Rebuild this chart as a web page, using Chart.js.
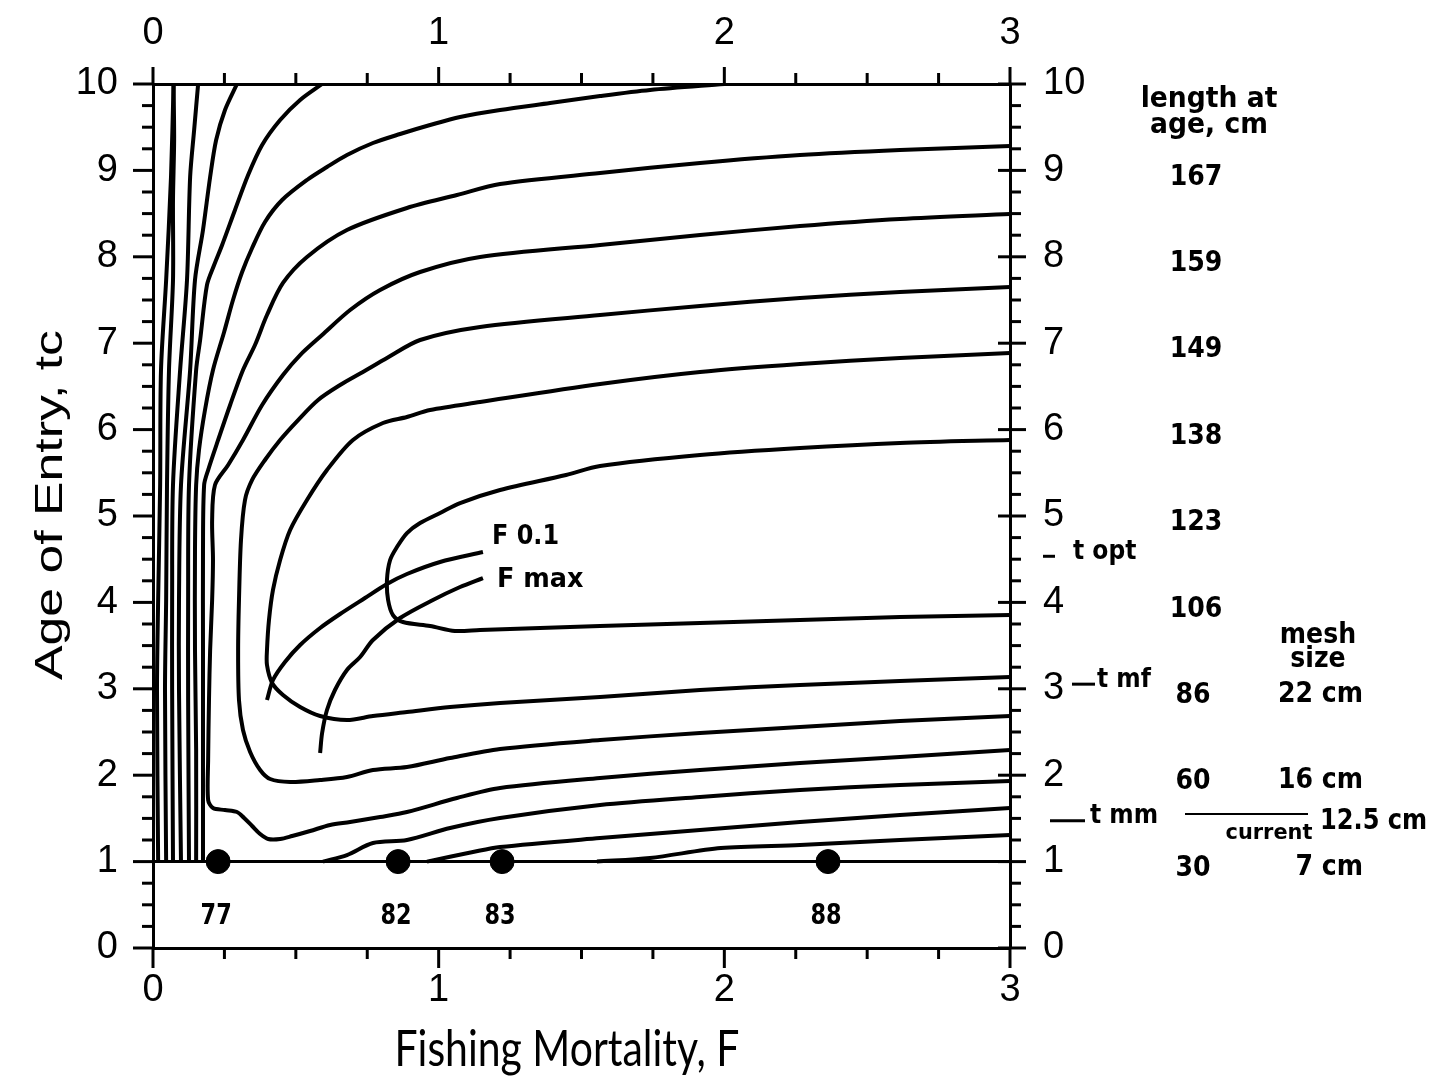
<!DOCTYPE html>
<html>
<head>
<meta charset="utf-8">
<script src="https://cdn.jsdelivr.net/npm/chart.js@4.4.1/dist/chart.umd.min.js"></script>
<style>
  html, body { margin: 0; padding: 0; background: #fff; }
</style>
</head>
<body>
<canvas id="isoChart" width="1437" height="1085"></canvas>
<script>
// yield isopleths, points as [F, tc]
// lines that run up to the top edge
const isoTop1 = [[0.072,10],[0.063,8.924],[0.046,7.731],[0.028,6.690],[0.025,5.359],[0.018,4.028],[0.014,2.986],[0.018,1.0]];
const isoTop2 = [[0.072,10],[0.074,9.352],[0.070,8.657],[0.070,7.731],[0.056,6.690],[0.049,5.359],[0.046,4.028],[0.042,2.986],[0.046,1.0]];
const isoTop3 = [[0.158,10],[0.144,9.468],[0.130,8.924],[0.119,7.731],[0.095,6.690],[0.070,5.359],[0.067,4.028],[0.067,2.986],[0.070,1.0]];
const isoTop4 = [[0.294,10],[0.252,9.699],[0.221,9.352],[0.200,8.924],[0.175,8.310],[0.147,7.731],[0.130,6.690],[0.098,5.359],[0.091,4.028],[0.091,2.986],[0.098,1.0]];
const isoTop5 = [[0.592,10],[0.515,9.815],[0.445,9.583],[0.382,9.294],[0.333,8.947],[0.287,8.542],[0.242,8.137],[0.214,7.905],[0.189,7.674],[0.165,7.037],[0.151,6.690],[0.126,5.359],[0.123,4.028],[0.123,2.870],[0.126,1.0]];
// contour meeting the top edge near F = 2
const iso10 = [[2.0,10],[1.740,9.931],[1.565,9.861],[1.390,9.780],[1.215,9.699],[1.075,9.618],[0.970,9.525],[0.865,9.421],[0.770,9.317],[0.679,9.178],[0.609,9.039],[0.539,8.889],[0.452,8.657],[0.392,8.403],[0.347,8.102],[0.312,7.824],[0.280,7.5],[0.249,7.130],[0.210,6.690],[0.182,6.227],[0.161,5.764],[0.151,5.359],[0.147,4.606],[0.147,3.449],[0.151,2.292],[0.151,1.0]];
// contours leaving the right edge (upper arm) and coming back (lower arm)
const iso928 = [[3,9.282],[2.615,9.236],[2.265,9.178],[1.915,9.086],[1.565,8.970],[1.215,8.843],[1.064,8.715],[0.889,8.565],[0.679,8.310],[0.539,7.998],[0.455,7.697],[0.399,7.326],[0.357,6.979],[0.315,6.690],[0.270,6.285],[0.228,5.880],[0.193,5.532],[0.179,5.359],[0.175,4.606],[0.175,3.449],[0.175,2.292],[0.175,1.0]];
const iso850 = [[3,8.495],[2.615,8.438],[2.265,8.356],[1.915,8.252],[1.565,8.137],[1.145,7.998],[0.935,7.824],[0.795,7.616],[0.690,7.384],[0.592,7.095],[0.515,6.863],[0.455,6.632],[0.382,6.285],[0.315,5.880],[0.263,5.590],[0.217,5.359],[0.207,4.954],[0.210,4.491],[0.207,4.028],[0.200,3.449],[0.196,2.870],[0.193,2.176],[0.193,1.713],[0.210,1.620],[0.252,1.597],[0.294,1.574],[0.319,1.505],[0.347,1.412],[0.375,1.319],[0.403,1.262],[0.445,1.262],[0.487,1.296],[0.550,1.354],[0.620,1.424],[0.690,1.458],[0.795,1.516],[0.889,1.574],[1.064,1.736],[1.215,1.852],[1.565,1.968],[1.915,2.060],[2.265,2.141],[2.615,2.211],[3,2.292]];
const iso765 = [[3,7.650],[2.615,7.593],[2.265,7.523],[1.915,7.431],[1.565,7.326],[1.145,7.188],[0.935,7.037],[0.819,6.829],[0.735,6.667],[0.655,6.516],[0.578,6.343],[0.508,6.111],[0.445,5.880],[0.392,5.648],[0.347,5.417],[0.322,5.185],[0.308,4.722],[0.301,4.028],[0.298,3.449],[0.301,2.870],[0.315,2.523],[0.340,2.269],[0.375,2.060],[0.410,1.956],[0.480,1.921],[0.585,1.944],[0.679,1.979],[0.770,2.060],[0.889,2.095],[1.040,2.199],[1.215,2.303],[1.565,2.407],[1.915,2.488],[2.265,2.558],[2.615,2.627],[3,2.685]];
const iso689 = [[3,6.887],[2.615,6.829],[2.265,6.759],[1.915,6.667],[1.565,6.528],[1.145,6.319],[0.970,6.227],[0.889,6.146],[0.805,6.076],[0.700,5.880],[0.609,5.532],[0.539,5.185],[0.480,4.838],[0.445,4.491],[0.420,4.144],[0.406,3.796],[0.399,3.449],[0.399,3.275],[0.417,3.067],[0.455,2.928],[0.515,2.789],[0.585,2.685],[0.679,2.639],[0.770,2.685],[0.889,2.731],[1.040,2.789],[1.215,2.836],[1.565,2.905],[1.915,2.986],[2.265,3.044],[2.615,3.090],[3,3.137]];
const iso588 = [[3,5.880],[2.615,5.845],[2.265,5.787],[1.915,5.706],[1.565,5.579],[1.446,5.475],[1.215,5.301],[1.075,5.150],[1.005,5.035],[0.935,4.919],[0.889,4.803],[0.854,4.641],[0.830,4.491],[0.819,4.259],[0.823,4.028],[0.840,3.854],[0.875,3.773],[0.970,3.727],[1.057,3.669],[1.145,3.681],[1.565,3.727],[1.915,3.762],[2.265,3.796],[2.615,3.831],[3,3.854]];
// lower arms starting on tc = 1
const isoLow193 = [[0.595,1.0],[0.679,1.076],[0.770,1.215],[0.889,1.250],[1.040,1.389],[1.215,1.505],[1.565,1.655],[1.915,1.748],[2.265,1.829],[2.615,1.887],[3,1.933]];
const isoLow162 = [[0.959,1.0],[1.120,1.111],[1.215,1.169],[1.565,1.273],[1.915,1.366],[2.265,1.458],[2.615,1.539],[3,1.620]];
const isoLow133 = [[1.554,1.0],[1.740,1.042],[1.988,1.157],[2.265,1.192],[2.615,1.250],[3,1.308]];

// reference point curves
const lineF01 = [[0.399,2.870],[0.420,3.102],[0.462,3.310],[0.515,3.507],[0.585,3.704],[0.655,3.866],[0.742,4.051],[0.819,4.213],[0.889,4.329],[1.005,4.468],[1.155,4.583]];
const lineFmax = [[0.585,2.257],[0.592,2.488],[0.609,2.755],[0.637,2.986],[0.679,3.218],[0.725,3.368],[0.770,3.565],[0.865,3.819],[0.980,4.028],[1.075,4.178],[1.155,4.282]];

// fishing mortality by year, plotted at tc = 1
const yearF = [0.228, 0.858, 1.222, 2.363];
const yearLabels = ['77', '82', '83', '88'];

// right hand columns
const lengthAges = [1, 2, 3, 4, 5, 6, 7, 8, 9];
const lengthAtAge = [30, 60, 86, 106, 123, 138, 149, 159, 167];
const meshAges = [1, 2, 3];
const meshSizes = ['7 cm', '16 cm', '22 cm'];
const currentMeshAge = 1.55;
const currentMesh = '12.5 cm';
const markerLabels = ['t opt', 't mf', 't mm'];
const markerAges = [4.58, 3.1, 1.52];

const isoLines = [isoTop1, isoTop2, isoTop3, isoTop4, isoTop5, iso10, iso928, iso850, iso765, iso689, iso588, isoLow193, isoLow162, isoLow133, lineF01, lineFmax];

const toPts = arr => arr.map(p => ({ x: p[0], y: p[1] }));

const datasets = isoLines.map(arr => ({
  data: toPts(arr),
  borderColor: '#000',
  borderWidth: 4,
  pointRadius: 0,
  tension: 0.3,
  fill: false,
  xAxisID: 'x',
  yAxisID: 'y'
}));

// tc = 1 line
datasets.push({
  data: [{ x: 0, y: 1 }, { x: 3, y: 1 }],
  borderColor: '#000', borderWidth: 3, pointRadius: 0, tension: 0,
  xAxisID: 'x', yAxisID: 'y'
});
// year dots
datasets.push({
  data: yearF.map(f => ({ x: f, y: 1 })),
  showLine: false,
  pointRadius: 12,
  pointBackgroundColor: '#000',
  pointBorderColor: '#000',
  xAxisID: 'x', yAxisID: 'y'
});

const tickFont = { family: 'Liberation Sans', size: 38 };

function txt(ctx, s, x, y, font, align, sx) {
  ctx.save();
  ctx.font = font;
  ctx.fillStyle = '#000';
  ctx.textAlign = align || 'left';
  ctx.textBaseline = 'middle';
  ctx.translate(x, y);
  ctx.scale(sx || 1, 1);
  ctx.fillText(s, 0, 0);
  ctx.restore();
}

function seg(ctx, x1, y1, x2, y2, w) {
  ctx.lineWidth = w || 3;
  ctx.beginPath();
  ctx.moveTo(x1, y1);
  ctx.lineTo(x2, y2);
  ctx.stroke();
}

const decor = {
  id: 'decor',
  afterDraw(chart) {
    const ctx = chart.ctx;
    const xs = chart.scales.x, ys = chart.scales.y;
    const { left, right, top, bottom } = chart.chartArea;
    ctx.save();
    ctx.strokeStyle = '#000';
    ctx.lineCap = 'butt';

    // tick marks, quarter steps
    for (let i = 0; i <= 12; i++) {
      const px = xs.getPixelForValue(i / 4);
      const major = i % 4 === 0;
      seg(ctx, px, top, px, top - (major ? 17 : 11));
      seg(ctx, px, bottom, px, bottom + (major ? 20 : 11));
    }
    for (let i = 0; i <= 40; i++) {
      const py = ys.getPixelForValue(i / 4);
      const major = i % 4 === 0;
      seg(ctx, left, py, left - (major ? 20 : 11), py);
      seg(ctx, right - (major ? 12 : 0), py, right + (major ? 16 : 11), py);
    }

    // axis titles
    ctx.save();
    ctx.font = '38px "Liberation Sans"';
    let w = ctx.measureText('Age of Entry, tc').width;
    ctx.restore();
    ctx.save();
    ctx.translate(52, 505);
    ctx.rotate(-Math.PI / 2);
    txt(ctx, 'Age of Entry, tc', 0, 0, '38px "Liberation Sans"', 'center', 350 / w);
    ctx.restore();

    ctx.save();
    ctx.font = '50px Lato';
    w = ctx.measureText('Fishing Mortality, F').width;
    ctx.restore();
    txt(ctx, 'Fishing Mortality, F', 567, 1050, '50px Lato', 'center', 345 / w);

    const bold = s => 'bold ' + s + 'px "DejaVu Sans"';

    // F0.1 / Fmax labels
    txt(ctx, 'F 0.1', 492, 537, bold(26), 'left', 0.92);
    txt(ctx, 'F max', 497, 580, bold(26), 'left', 0.98);

    // year labels under the dots
    yearF.forEach((f, i) => {
      txt(ctx, yearLabels[i], xs.getPixelForValue(f) - 2, ys.getPixelForValue(0.36), bold(28), 'center', 0.8);
    });

    // length at age column
    const colX = right + 186;
    txt(ctx, 'length at', colX + 13, 100, bold(28), 'center', 0.95);
    txt(ctx, 'age, cm', colX + 13, 126, bold(28), 'center', 0.95);
    lengthAges.forEach((a, i) => {
      const s = String(lengthAtAge[i]);
      txt(ctx, s, s.length === 2 ? colX - 3 : colX, ys.getPixelForValue(a) + 7, bold(28), 'center', 0.9);
    });

    // mesh size column
    txt(ctx, 'mesh', right + 308, 636, bold(28), 'center', 0.9);
    txt(ctx, 'size', right + 308, 660, bold(28), 'center', 0.9);
    meshAges.forEach((a, i) => {
      txt(ctx, meshSizes[i], right + 353, ys.getPixelForValue(a) + 6, bold(28), 'right', 0.9);
    });
    const cy = ys.getPixelForValue(currentMeshAge);
    seg(ctx, right + 175, cy, right + 298, cy, 2);
    txt(ctx, 'current', right + 259, cy + 19, bold(22), 'center', 0.95);
    txt(ctx, currentMesh, right + 310, cy + 8, bold(28), 'left', 0.86);

    // t opt, t mf, t mm markers
    const mk = [[33, 45, 63], [62, 85, 87], [40, 75, 80]];
    markerAges.forEach((a, i) => {
      const py = ys.getPixelForValue(a);
      const m = mk[i];
      seg(ctx, right + m[0], py + 4, right + m[1], py + 4, 3);
      txt(ctx, markerLabels[i], right + m[2], py, bold(26), 'left', 0.9);
    });

    ctx.restore();
  }
};

const ctx = document.getElementById('isoChart').getContext('2d');
new Chart(ctx, {
  type: 'line',
  data: { datasets },
  options: {
    responsive: false,
    animation: false,
    devicePixelRatio: 1,
    plugins: { legend: { display: false }, tooltip: { enabled: false } },
    layout: { padding: 0 },
    scales: {
      x: {
        type: 'linear', position: 'bottom', min: 0, max: 3,
        ticks: { stepSize: 1, color: '#000', font: tickFont, padding: 8, maxRotation: 0 },
        grid: { display: false, drawTicks: true, tickLength: 12 },
        border: { display: true, color: '#000', width: 3 },
        afterFit(s) { s.height = 137; }
      },
      x2: {
        type: 'linear', position: 'top', min: 0, max: 3,
        ticks: { stepSize: 1, color: '#000', font: tickFont, padding: 14, maxRotation: 0 },
        grid: { display: false, drawTicks: true, tickLength: 14 },
        border: { display: true, color: '#000', width: 3 },
        afterFit(s) { s.height = 84; }
      },
      y: {
        type: 'linear', position: 'left', min: 0, max: 10,
        ticks: { stepSize: 1, color: '#000', font: tickFont, padding: 15 },
        grid: { display: false, drawTicks: true, tickLength: 20 },
        border: { display: true, color: '#000', width: 3 },
        afterFit(s) { s.width = 153; }
      },
      y2: {
        type: 'linear', position: 'right', min: 0, max: 10,
        ticks: { stepSize: 1, color: '#000', font: tickFont, padding: 15 },
        grid: { display: false, drawTicks: true, tickLength: 18 },
        border: { display: true, color: '#000', width: 3 },
        afterFit(s) { s.width = 427; }
      }
    }
  },
  plugins: [decor]
});
</script>
</body>
</html>
